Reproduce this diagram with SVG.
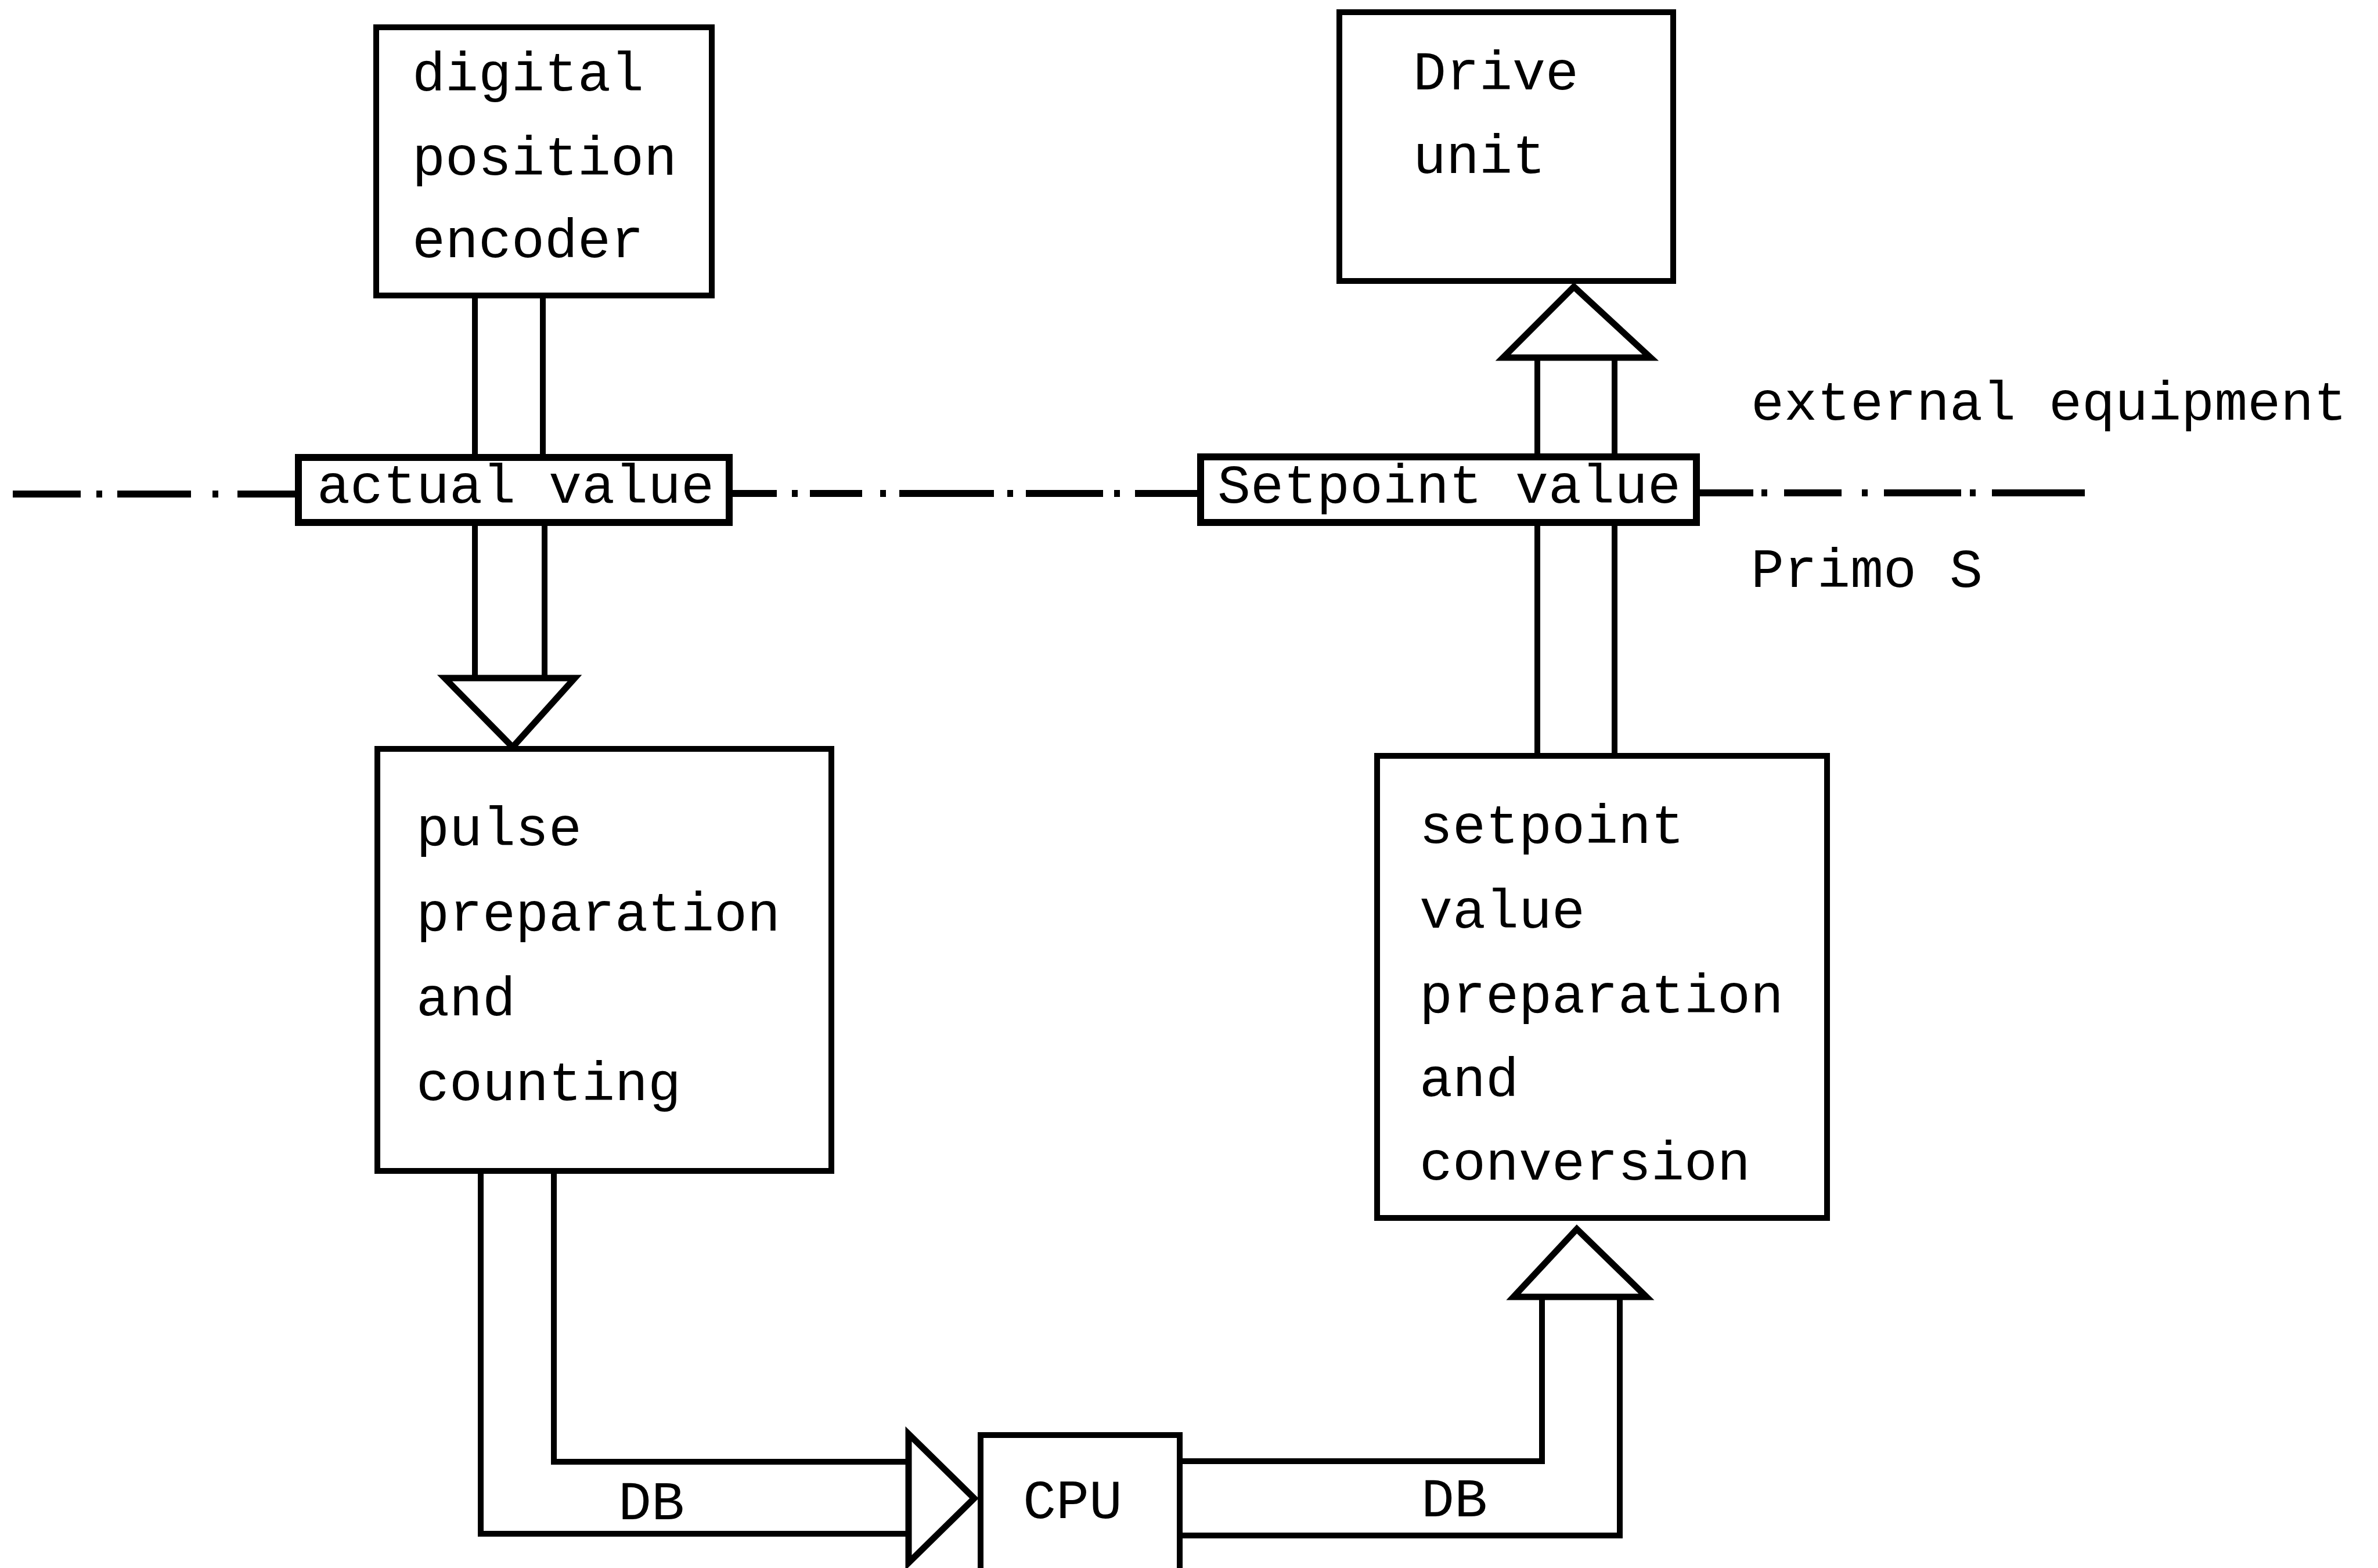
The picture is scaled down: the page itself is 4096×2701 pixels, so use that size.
<svg xmlns="http://www.w3.org/2000/svg" width="4096" height="2701" viewBox="0 0 4096 2701">
<style>
.box{fill:#fff;stroke:#000;stroke-width:10}
.lbl{fill:#fff;stroke:#000;stroke-width:12}
.ln{fill:none;stroke:#000;stroke-width:10;stroke-linecap:square}
.tri{fill:#fff;stroke:#000;stroke-width:11;stroke-linejoin:miter}
.dd{fill:none;stroke:#000;stroke-width:12}
text{font-family:"Liberation Mono","Courier New",monospace;font-size:95px;fill:#000}
</style>
<rect width="4096" height="2701" fill="#fff"/>
<g id="separator">
<path class="dd" d="M22 851H139M166 851H176M202 851H329M366 851H376M409 851H514"/>
<path class="dd" d="M1256 850H1338M1364 850H1374M1395 850H1485M1516 850H1526M1549 850H1712M1735 850H1745M1767 850H1900M1919 850H1929M1955 850H2068"/>
<path class="dd" d="M2922 849H3020M3034 849H3044M3073 849H3172M3207 849H3217M3245 849H3378M3393 849H3403M3431 849H3591"/>
</g>
<g id="connectors">
<path class="ln" d="M818 509V788M935 509V788"/>
<path class="ln" d="M818 900V1168M938 900V1168"/>
<polygon class="tri" points="766,1168 990,1168 883,1287"/>
<path class="ln" d="M2648 616V787M2781 616V787"/>
<polygon class="tri" points="2589,616 2843,616 2711,494"/>
<path class="ln" d="M2648 900V1302M2781 900V1302"/>
<path class="ln" d="M828 2017V2642H1565M954 2017V2518H1565"/>
<polygon class="tri" points="1565,2470 1565,2692 1678,2581"/>
<path class="ln" d="M2032 2517H2656V2234M2032 2645H2790V2234"/>
<polygon class="tri" points="2607,2234 2836,2234 2716,2117"/>
</g>
<g id="encoder">
<rect class="box" x="648" y="47" width="578" height="462"/>
<text x="710" y="156">digital</text>
<text x="710" y="301">position</text>
<text x="710" y="443">encoder</text>
</g>
<g id="drive">
<rect class="box" x="2307" y="21" width="575" height="463"/>
<text x="2434" y="154">Drive</text>
<text x="2434" y="298">unit</text>
</g>
<g id="actual-value">
<rect class="lbl" x="514" y="788" width="742" height="112"/>
<text x="546" y="866">actual value</text>
</g>
<g id="setpoint-value">
<rect class="lbl" x="2068" y="787" width="854" height="113"/>
<text x="2097" y="866">Setpoint value</text>
</g>
<g id="zone-labels">
<text x="3016" y="723">external equipment</text>
<text x="3016" y="1011">Primo S</text>
</g>
<g id="pulse">
<rect class="box" x="650" y="1290" width="782" height="727"/>
<text x="717" y="1456">pulse</text>
<text x="717" y="1603">preparation</text>
<text x="717" y="1749">and</text>
<text x="717" y="1895">counting</text>
</g>
<g id="setpoint">
<rect class="box" x="2372" y="1302" width="775" height="796"/>
<text x="2445" y="1452">setpoint</text>
<text x="2445" y="1598">value</text>
<text x="2445" y="1744">preparation</text>
<text x="2445" y="1888">and</text>
<text x="2445" y="2032">conversion</text>
</g>
<g id="cpu">
<rect class="box" x="1689" y="2472" width="343" height="260"/>
<text x="1762" y="2615">CPU</text>
</g>
<g id="bus-labels">
<text x="1065" y="2617">DB</text>
<text x="2448" y="2612">DB</text>
</g>
</svg>
